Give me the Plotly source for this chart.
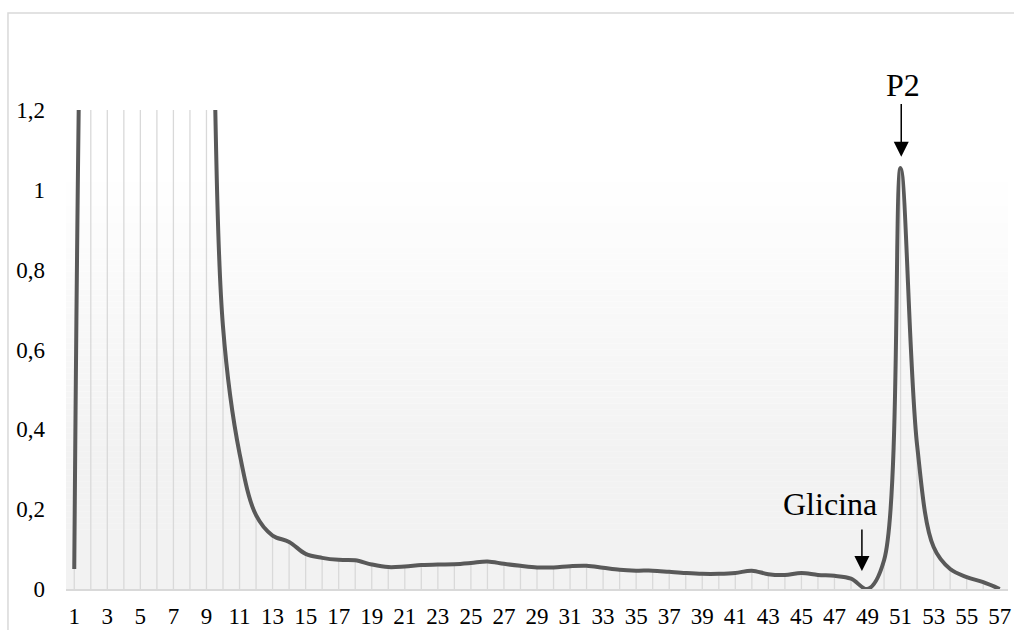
import plotly.graph_objects as go

# ---- data ----
fractions = list(range(1, 58))
absorbance = [0.05, 2.6, 3.1, 3.3, 3.2, 3.0, 2.7, 2.4, 2.0, 0.657,
              0.34, 0.185, 0.134, 0.118, 0.088, 0.078, 0.073, 0.072, 0.0615, 0.055,
              0.0565, 0.06, 0.0615, 0.062, 0.065, 0.069, 0.063, 0.058, 0.054, 0.054,
              0.057, 0.058, 0.053, 0.048, 0.046, 0.046, 0.043, 0.040, 0.038, 0.038,
              0.040, 0.046, 0.037, 0.035, 0.040, 0.035, 0.033, 0.026, 0.0, 0.072,
              1.055, 0.36, 0.105, 0.05, 0.03, 0.017, 0.0]
x_tick_vals = list(range(1, 58, 2))
x_tick_text = [str(v) for v in x_tick_vals]
y_tick_vals = [0, 0.2, 0.4, 0.6, 0.8, 1.0, 1.2]
y_tick_text = ["0", "0,2", "0,4", "0,6", "0,8", "1", "1,2"]

FONT = "Liberation Serif"

# drop lines built from the data
drop_x, drop_y = [], []
for xv, yv in zip(fractions, absorbance):
    drop_x += [xv, xv, None]
    drop_y += [0, yv, None]

fig = go.Figure()
fig.add_trace(go.Scatter(x=drop_x, y=drop_y, mode="lines",
                         line=dict(color="#d9d9d9", width=1.3),
                         hoverinfo="skip", showlegend=False))
fig.add_trace(go.Scatter(x=fractions, y=absorbance, mode="lines",
                         line=dict(color="#595959", width=4, shape="spline", smoothing=1.0),
                         showlegend=False))

# background gradient bands for the plot area
shapes = []
n = 80
for i in range(n):
    f = (i + 0.5) / n  # fraction from top
    if f < 0.13:
        g = 255
    elif f < 0.72:
        g = 255 - 13 * (f - 0.13) / (0.72 - 0.13)
    else:
        g = 242
    g = int(round(g))
    shapes.append(dict(type="rect", xref="paper", yref="paper",
                       x0=0, x1=1, y0=1 - (i + 1) / n, y1=1 - i / n,
                       fillcolor=f"rgb({g},{g},{g})", line=dict(width=0),
                       layer="below"))
# outer chart border (continues past the visible window)
shapes.append(dict(type="rect", xref="paper", yref="paper",
                   x0=-0.0616, x1=1.2, y0=-0.3, y1=1.2025,
                   line=dict(color="#d9d9d9", width=1.5), fillcolor="rgba(0,0,0,0)",
                   layer="below"))

annotations = [
    dict(x=51.15, y=1.052, xref="x", yref="paper", text="P2", showarrow=False,
         font=dict(family=FONT, size=32, color="#000000"), xanchor="center", yanchor="middle"),
    dict(x=51.04, y=1.083, xref="x", yref="y", ax=51.04, ay=1.219, axref="x", ayref="y",
         text="", showarrow=True, arrowhead=2, arrowsize=2, arrowwidth=1.5, arrowcolor="#000000"),
    dict(x=46.72, y=0.213, xref="x", yref="y", text="Glicina", showarrow=False,
         font=dict(family=FONT, size=32, color="#000000"), xanchor="center", yanchor="middle"),
    dict(x=48.66, y=0.045, xref="x", yref="y", ax=48.66, ay=0.153, axref="x", ayref="y",
         text="", showarrow=True, arrowhead=2, arrowsize=2, arrowwidth=1.5, arrowcolor="#000000"),
]

fig.update_layout(
    width=1014, height=630,
    margin=dict(l=66, r=6, t=110, b=41, autoexpand=False),
    paper_bgcolor="#ffffff", plot_bgcolor="rgba(0,0,0,0)",
    font=dict(family=FONT, size=23, color="#000000"),
    shapes=shapes, annotations=annotations,
    xaxis=dict(range=[0.5, 57.5], tickvals=x_tick_vals, ticktext=x_tick_text,
               showgrid=False, zeroline=False, showline=True, linecolor="#d9d9d9",
               linewidth=1.5, ticks="", ticklabelstandoff=6, automargin=False,
               tickfont=dict(family=FONT, size=23, color="#000000")),
    yaxis=dict(range=[0, 1.2], tickvals=y_tick_vals, ticktext=y_tick_text,
               showgrid=False, zeroline=False, showline=False, ticks="",
               ticklabelstandoff=20, automargin=False,
               tickfont=dict(family=FONT, size=23, color="#000000")),
)

fig.write_html("out.html")
